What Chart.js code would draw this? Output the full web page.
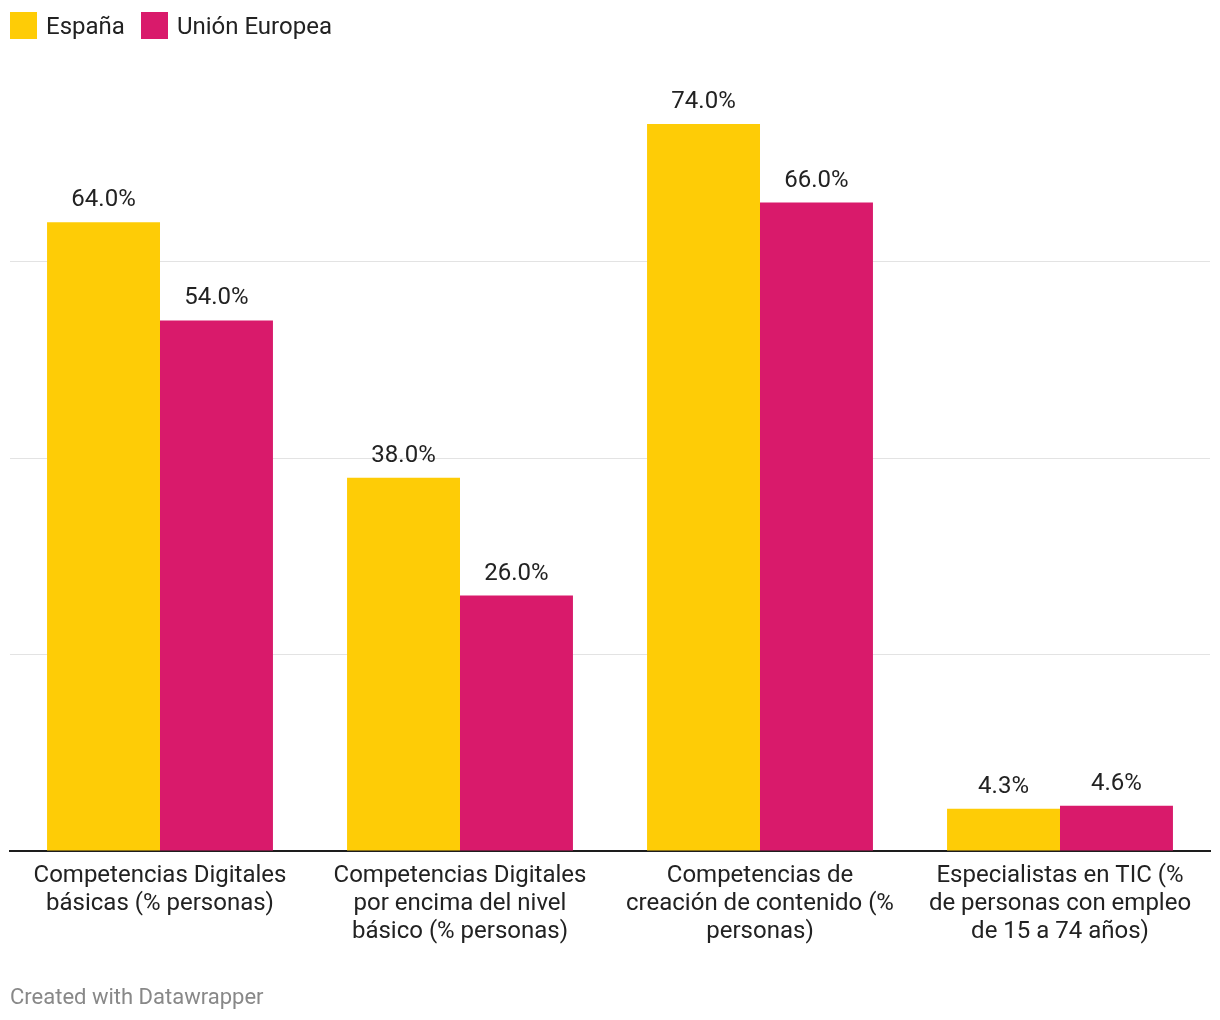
<!DOCTYPE html>
<html>
<head>
<meta charset="utf-8">
<script src="https://cdn.jsdelivr.net/npm/chart.js@4.4.1/dist/chart.umd.min.js"></script>
<style>
  html, body { margin: 0; padding: 0; background: #fff; }
  body { width: 1220px; height: 1020px; position: relative; overflow: hidden; font-family: Roboto, "Noto Sans", sans-serif; }
  #legend { position: absolute; left: 10px; top: 12px; height: 27px; display: flex; align-items: center; font-size: 24px; color: #222; }
  .item { display: flex; align-items: center; margin-right: 16px; }
  .sw { width: 27px; height: 27px; margin-right: 9px; }
  #footer { position: absolute; left: 10px; top: 984px; font-size: 22px; color: #888; }
  #wrap { position: absolute; left: 0; top: 0; width: 1220px; height: 1020px; }
</style>
</head>
<body>
<div id="wrap"><canvas id="c"></canvas></div>
<div id="legend"></div>
<div id="footer">Created with Datawrapper</div>
<script>
const categories = [
  ["Competencias Digitales", "básicas (% personas)"],
  ["Competencias Digitales", "por encima del nivel", "básico (% personas)"],
  ["Competencias de", "creación de contenido (%", "personas)"],
  ["Especialistas en TIC (%", "de personas con empleo", "de 15 a 74 años)"]
];
const seriesNames = ["España", "Unión Europea"];
const espana = [64.0, 38.0, 74.0, 4.3];
const unionEuropea = [54.0, 26.0, 66.0, 4.6];
const gridTicks = [0, 20, 40, 60];
const colors = ["#fecc06", "#d91a6b"];

const legend = document.getElementById('legend');
seriesNames.forEach((n, i) => {
  const it = document.createElement('div'); it.className = 'item';
  const sw = document.createElement('div'); sw.className = 'sw'; sw.style.background = colors[i];
  const t = document.createElement('span'); t.textContent = n;
  it.appendChild(sw); it.appendChild(t); legend.appendChild(it);
});

const valueLabels = {
  id: 'valueLabels',
  afterDatasetsDraw(chart) {
    const ctx = chart.ctx;
    ctx.save();
    ctx.font = '24px Roboto';
    ctx.fillStyle = '#222';
    ctx.textAlign = 'center';
    ctx.textBaseline = 'alphabetic';
    chart.data.datasets.forEach((ds, di) => {
      chart.getDatasetMeta(di).data.forEach((bar, i) => {
        ctx.fillText(ds.data[i].toFixed(1) + '%', bar.x, bar.y - 16);
      });
    });
    ctx.restore();
  }
};

new Chart(document.getElementById('c'), {
  type: 'bar',
  data: {
    labels: categories,
    datasets: [
      { label: seriesNames[0], data: espana, backgroundColor: colors[0] },
      { label: seriesNames[1], data: unionEuropea, backgroundColor: colors[1] }
    ]
  },
  options: {
    responsive: true,
    maintainAspectRatio: false,
    animation: false,
    events: [],
    layout: { padding: { left: 10, right: 10, top: 65, bottom: 71 } },
    datasets: { bar: { categoryPercentage: 0.753, barPercentage: 1.0 } },
    plugins: { legend: { display: false }, tooltip: { enabled: false } },
    scales: {
      x: {
        grid: { display: false },
        border: { display: true, color: '#1d1d1d', width: 2 },
        ticks: { color: '#222', font: { family: 'Roboto', size: 24, lineHeight: 28 / 24 }, padding: 3, maxRotation: 0, autoSkip: false }
      },
      y: {
        min: 0, max: 80,
        afterBuildTicks(scale) { scale.ticks = gridTicks.map(v => ({ value: v })); },
        ticks: { display: false },
        grid: { color: '#e3e3e3', lineWidth: 1, drawTicks: false },
        border: { display: false }
      }
    }
  },
  plugins: [valueLabels]
});
</script>
</body>
</html>
